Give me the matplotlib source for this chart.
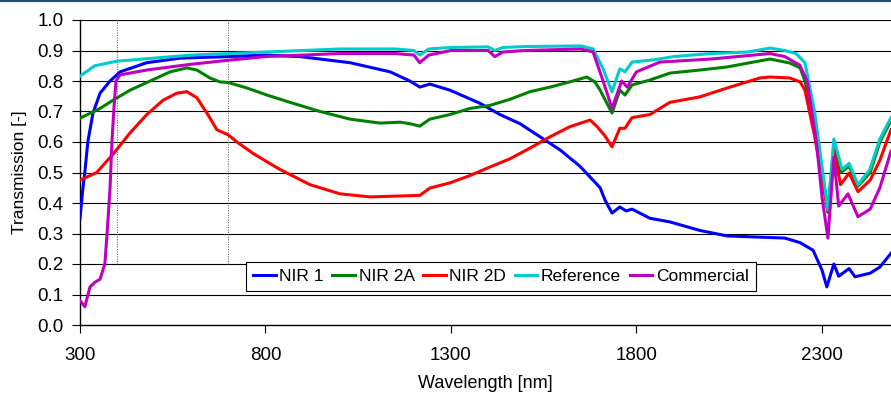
import numpy as np
import matplotlib
matplotlib.use("Agg")
import matplotlib.pyplot as plt
from matplotlib.lines import Line2D

plt.rcParams['font.family'] = ['Liberation Sans', 'DejaVu Sans']

# wavelength [nm] / transmission [-]
wl_nir1 = [300, 308, 313, 321, 335, 354, 381, 408, 480, 570, 700, 800, 893, 1028, 1136, 1189, 1216,
           1243, 1297, 1378, 1432, 1486, 1540, 1594, 1648, 1702, 1715, 1734, 1755, 1772, 1788, 1836,
           1890, 1971, 2044, 2133, 2200, 2241, 2276, 2300, 2313, 2332, 2345, 2373, 2389, 2430, 2456, 2486]
t_nir1 = [0.35, 0.45, 0.50, 0.60, 0.695, 0.76, 0.80, 0.83, 0.86, 0.875, 0.88, 0.885, 0.88, 0.86, 0.83,
          0.80, 0.78, 0.79, 0.77, 0.727, 0.69, 0.66, 0.617, 0.574, 0.52, 0.45, 0.41, 0.367, 0.387, 0.374,
          0.38, 0.35, 0.338, 0.31, 0.292, 0.288, 0.285, 0.27, 0.245, 0.18, 0.125, 0.20, 0.16, 0.185, 0.158,
          0.17, 0.19, 0.235]

wl_nir2a = [300, 354, 389, 435, 489, 543, 588, 615, 650, 677, 700, 750, 804, 866, 947, 1028, 1109, 1163,
            1189, 1216, 1243, 1297, 1351, 1405, 1459, 1513, 1567, 1620, 1666, 1688, 1702, 1734, 1755,
            1769, 1788, 1836, 1890, 1971, 2044, 2133, 2160, 2213, 2241, 2254, 2280, 2300, 2316, 2332,
            2350, 2373, 2397, 2430, 2456, 2486]
t_nir2a = [0.678, 0.71, 0.737, 0.77, 0.80, 0.83, 0.843, 0.836, 0.81, 0.797, 0.795, 0.777, 0.754, 0.73,
           0.70, 0.675, 0.662, 0.665, 0.66, 0.652, 0.675, 0.69, 0.71, 0.72, 0.74, 0.765, 0.78, 0.797,
           0.813, 0.797, 0.77, 0.695, 0.77, 0.754, 0.787, 0.803, 0.826, 0.836, 0.846, 0.866, 0.872,
           0.859, 0.843, 0.80, 0.65, 0.50, 0.37, 0.59, 0.50, 0.52, 0.455, 0.50, 0.60, 0.67]

wl_nir2d = [300, 345, 389, 435, 480, 524, 561, 588, 615, 642, 669, 700, 723, 766, 804, 839, 920, 1001,
            1082, 1163, 1216, 1243, 1297, 1351, 1405, 1459, 1513, 1567, 1620, 1675, 1694, 1715, 1734,
            1755, 1769, 1788, 1836, 1863, 1890, 1971, 2044, 2133, 2160, 2213, 2241, 2254, 2280, 2300,
            2316, 2332, 2350, 2373, 2397, 2430, 2456, 2486]
t_nir2d = [0.475, 0.50, 0.56, 0.63, 0.69, 0.737, 0.76, 0.765, 0.745, 0.695, 0.64, 0.623, 0.60, 0.563,
           0.535, 0.51, 0.46, 0.43, 0.42, 0.423, 0.425, 0.449, 0.466, 0.49, 0.518, 0.545, 0.58, 0.617,
           0.65, 0.672, 0.65, 0.62, 0.584, 0.645, 0.645, 0.68, 0.69, 0.71, 0.73, 0.748, 0.777, 0.81,
           0.813, 0.81, 0.797, 0.77, 0.62, 0.48, 0.37, 0.574, 0.46, 0.498, 0.437, 0.475, 0.54, 0.64]

wl_ref = [300, 340, 400, 500, 600, 800, 1000, 1150, 1200, 1216, 1240, 1300, 1400, 1418, 1440, 1500,
          1650, 1683, 1710, 1734, 1755, 1769, 1788, 1850, 1900, 2000, 2100, 2160, 2200, 2230, 2254,
          2280, 2300, 2316, 2332, 2354, 2373, 2397, 2429, 2456, 2486]
t_ref = [0.816, 0.85, 0.865, 0.875, 0.885, 0.895, 0.905, 0.905, 0.90, 0.885, 0.905, 0.91, 0.912, 0.90,
         0.91, 0.913, 0.915, 0.905, 0.84, 0.764, 0.84, 0.83, 0.862, 0.87, 0.88, 0.89, 0.895, 0.908,
         0.90, 0.89, 0.86, 0.70, 0.52, 0.377, 0.61, 0.51, 0.53, 0.46, 0.51, 0.61, 0.68]

wl_com = [300, 313, 327, 340, 354, 367, 373, 381, 386, 392, 397, 408, 480, 600, 700, 800, 1000, 1150,
          1200, 1216, 1240, 1300, 1400, 1418, 1440, 1500, 1650, 1683, 1710, 1734, 1760, 1775, 1800,
          1863, 2000, 2160, 2200, 2240, 2260, 2285, 2300, 2316, 2332, 2345, 2370, 2397, 2430, 2456, 2486]
t_com = [0.08, 0.06, 0.125, 0.14, 0.15, 0.20, 0.30, 0.45, 0.60, 0.72, 0.80, 0.82, 0.836, 0.855, 0.868,
         0.88, 0.89, 0.89, 0.885, 0.86, 0.885, 0.90, 0.90, 0.88, 0.895, 0.90, 0.905, 0.895, 0.80, 0.71,
         0.80, 0.78, 0.83, 0.862, 0.872, 0.89, 0.88, 0.852, 0.80, 0.60, 0.42, 0.285, 0.55, 0.39, 0.43,
         0.355, 0.38, 0.45, 0.57]

names = ['NIR 1', 'NIR 2A', 'NIR 2D', 'Reference', 'Commercial']
colors = ['#0000FF', '#008000', '#FF0000', '#00CCCC', '#C000C0']
series = [(wl_nir1, t_nir1), (wl_nir2a, t_nir2a), (wl_nir2d, t_nir2d), (wl_ref, t_ref), (wl_com, t_com)]

fig = plt.figure(figsize=(8.91, 3.96), dpi=100)
ax = fig.add_axes([80/891, 1-325/396, 1-80/891, 305/396])

for y in np.arange(0.1, 1.01, 0.1):
    ax.axhline(y, color='black', lw=0.8, zorder=1)
for x in [400, 700]:
    ax.plot([x, x], [0.2, 1.0], color='#555555', lw=0.7, ls=(0, (1, 1.5)), zorder=1)

for (wl, t), c, n in zip(series, colors, names):
    ax.plot(wl, t, color=c, lw=2.2, label=n, zorder=3, solid_joinstyle='round')

ax.set_xlim(300, 2486)
ax.set_ylim(0, 1.0)
ax.set_xticks([300, 800, 1300, 1800, 2300])
ax.set_yticks(np.arange(0, 1.01, 0.1))
ax.set_yticklabels([f'{v:.1f}' for v in np.arange(0, 1.01, 0.1)])
for s in ['top', 'right']:
    ax.spines[s].set_visible(False)
ax.spines['left'].set_linewidth(1.0)
ax.spines['bottom'].set_linewidth(1.0)
ax.tick_params(axis='both', direction='out', length=6, width=0.8, labelsize=13.5, colors='black')
ax.tick_params(axis='x', pad=10)
ax.tick_params(axis='y', pad=6)

ax.set_xlabel('Wavelength [nm]', fontsize=13, labelpad=8)
ax.set_ylabel('Transmission [-]', fontsize=12.5, labelpad=7)

handles = [Line2D([0], [0], color=c, lw=2.2) for c in colors]
leg = ax.legend(handles, names, loc='upper center', bbox_to_anchor=(0.519, 0.207), ncol=5,
                fontsize=12.5, frameon=True, fancybox=False, edgecolor='black', framealpha=1,
                handlelength=1.3, handletextpad=0.2, columnspacing=0.5, borderpad=0.4,
                borderaxespad=0)
leg.get_frame().set_linewidth(0.8)
leg.set_zorder(5)

fig.add_artist(Line2D([0, 1], [0.998, 0.998], color='#1F4E79', lw=1.5, transform=fig.transFigure))

fig.savefig('out.png', dpi=100)
